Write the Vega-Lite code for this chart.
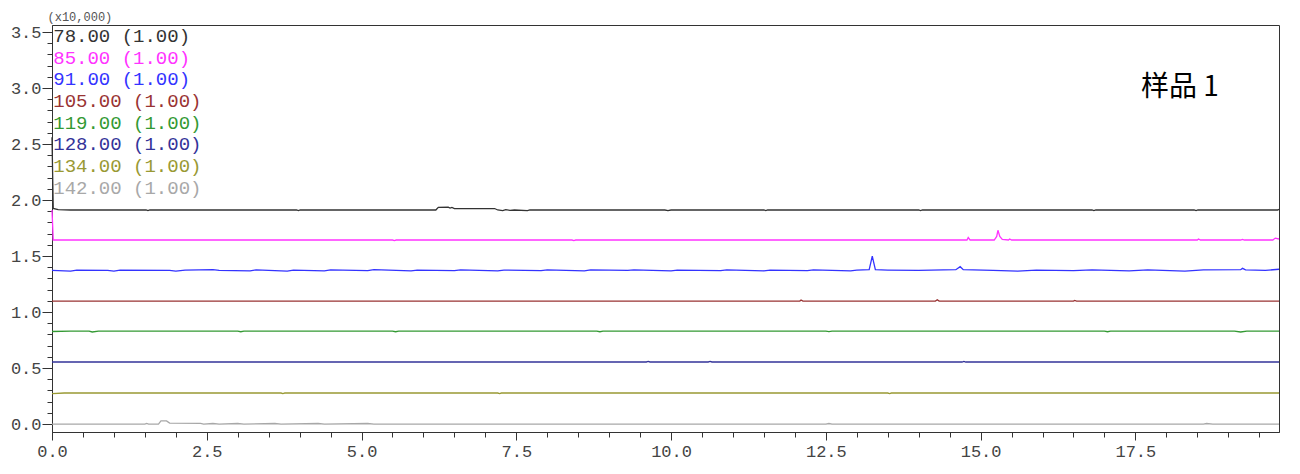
{
"$schema": "https://vega.github.io/schema/vega-lite/v6.json",
"width": 1227, "height": 407,
"autosize": {"type": "none"},
"padding": {"left": 52, "top": 25, "right": 21, "bottom": 42},
"background": "white",
"config": {"view": {"stroke": "#333333", "strokeWidth": 1}},
"resolve": {"axis": {"x": "independent", "y": "independent"}},
"layer": [
{
"data": {"values": [
{"s":"78","t":0,"v":2.56},{"s":"78","t":0.02,"v":1.925},{"s":"78","t":0.1,"v":1.915},{"s":"78","t":0.3,"v":1.911},{"s":"78","t":1.52,"v":1.911},{"s":"78","t":1.55,"v":1.905},{"s":"78","t":1.58,"v":1.911},{"s":"78","t":3.95,"v":1.911},{"s":"78","t":3.98,"v":1.906},{"s":"78","t":4.01,"v":1.911},{"s":"78","t":6.2,"v":1.911},{"s":"78","t":6.24,"v":1.935},{"s":"78","t":6.4,"v":1.937},{"s":"78","t":6.43,"v":1.928},{"s":"78","t":6.46,"v":1.934},{"s":"78","t":6.5,"v":1.924},{"s":"78","t":7.15,"v":1.924},{"s":"78","t":7.2,"v":1.911},{"s":"78","t":7.28,"v":1.906},{"s":"78","t":7.33,"v":1.914},{"s":"78","t":7.4,"v":1.907},{"s":"78","t":7.47,"v":1.911},{"s":"78","t":7.68,"v":1.905},{"s":"78","t":7.72,"v":1.911},{"s":"78","t":9.9,"v":1.911},{"s":"78","t":9.95,"v":1.906},{"s":"78","t":10,"v":1.911},{"s":"78","t":11.5,"v":1.911},{"s":"78","t":11.53,"v":1.906},{"s":"78","t":11.56,"v":1.911},{"s":"78","t":14.0,"v":1.911},{"s":"78","t":14.03,"v":1.906},{"s":"78","t":14.06,"v":1.911},{"s":"78","t":16.8,"v":1.911},{"s":"78","t":16.83,"v":1.906},{"s":"78","t":16.86,"v":1.911},{"s":"78","t":18.45,"v":1.911},{"s":"78","t":18.48,"v":1.906},{"s":"78","t":18.51,"v":1.911},{"s":"78","t":19.8,"v":1.911},{"s":"78","t":19.82,"v":1.918},
{"s":"85","t":0,"v":1.911},{"s":"85","t":0.02,"v":1.643},{"s":"85","t":5.5,"v":1.643},{"s":"85","t":5.53,"v":1.638},{"s":"85","t":5.56,"v":1.643},{"s":"85","t":8.4,"v":1.643},{"s":"85","t":8.43,"v":1.638},{"s":"85","t":8.46,"v":1.643},{"s":"85","t":14.78,"v":1.643},{"s":"85","t":14.8,"v":1.665},{"s":"85","t":14.83,"v":1.643},{"s":"85","t":15.22,"v":1.643},{"s":"85","t":15.26,"v":1.675},{"s":"85","t":15.28,"v":1.73},{"s":"85","t":15.31,"v":1.675},{"s":"85","t":15.35,"v":1.648},{"s":"85","t":15.45,"v":1.643},{"s":"85","t":15.47,"v":1.652},{"s":"85","t":15.5,"v":1.643},{"s":"85","t":18.5,"v":1.643},{"s":"85","t":18.52,"v":1.652},{"s":"85","t":18.55,"v":1.643},{"s":"85","t":19.2,"v":1.643},{"s":"85","t":19.23,"v":1.649},{"s":"85","t":19.26,"v":1.643},{"s":"85","t":19.72,"v":1.643},{"s":"85","t":19.76,"v":1.66},{"s":"85","t":19.82,"v":1.652},
{"s":"91","t":0,"v":1.372},{"s":"91","t":0.3,"v":1.365},{"s":"91","t":0.4,"v":1.374},{"s":"91","t":0.9,"v":1.372},{"s":"91","t":1.0,"v":1.365},{"s":"91","t":1.1,"v":1.375},{"s":"91","t":1.9,"v":1.372},{"s":"91","t":2.0,"v":1.366},{"s":"91","t":2.15,"v":1.375},{"s":"91","t":2.6,"v":1.378},{"s":"91","t":2.7,"v":1.372},{"s":"91","t":3.2,"v":1.368},{"s":"91","t":3.3,"v":1.376},{"s":"91","t":3.8,"v":1.366},{"s":"91","t":3.9,"v":1.374},{"s":"91","t":4.4,"v":1.368},{"s":"91","t":4.5,"v":1.376},{"s":"91","t":5.1,"v":1.37},{"s":"91","t":5.2,"v":1.378},{"s":"91","t":5.8,"v":1.368},{"s":"91","t":5.9,"v":1.375},{"s":"91","t":6.5,"v":1.37},{"s":"91","t":6.6,"v":1.377},{"s":"91","t":7.2,"v":1.368},{"s":"91","t":7.3,"v":1.375},{"s":"91","t":7.9,"v":1.37},{"s":"91","t":8.0,"v":1.377},{"s":"91","t":8.6,"v":1.368},{"s":"91","t":8.7,"v":1.376},{"s":"91","t":9.3,"v":1.372},{"s":"91","t":9.4,"v":1.377},{"s":"91","t":10.0,"v":1.368},{"s":"91","t":10.1,"v":1.375},{"s":"91","t":10.8,"v":1.37},{"s":"91","t":10.9,"v":1.377},{"s":"91","t":11.5,"v":1.368},{"s":"91","t":11.6,"v":1.375},{"s":"91","t":12.2,"v":1.37},{"s":"91","t":12.3,"v":1.376},{"s":"91","t":12.9,"v":1.368},{"s":"91","t":13.0,"v":1.375},{"s":"91","t":13.2,"v":1.378},{"s":"91","t":13.23,"v":1.45},{"s":"91","t":13.25,"v":1.5},{"s":"91","t":13.27,"v":1.45},{"s":"91","t":13.3,"v":1.378},{"s":"91","t":13.5,"v":1.375},{"s":"91","t":14.0,"v":1.372},{"s":"91","t":14.6,"v":1.378},{"s":"91","t":14.67,"v":1.405},{"s":"91","t":14.72,"v":1.378},{"s":"91","t":15.2,"v":1.372},{"s":"91","t":15.6,"v":1.365},{"s":"91","t":15.9,"v":1.374},{"s":"91","t":16.5,"v":1.37},{"s":"91","t":16.8,"v":1.376},{"s":"91","t":17.4,"v":1.368},{"s":"91","t":17.7,"v":1.376},{"s":"91","t":18.3,"v":1.366},{"s":"91","t":18.6,"v":1.376},{"s":"91","t":19.2,"v":1.378},{"s":"91","t":19.23,"v":1.39},{"s":"91","t":19.28,"v":1.376},{"s":"91","t":19.6,"v":1.372},{"s":"91","t":19.82,"v":1.382},
{"s":"105","t":0,"v":1.098},{"s":"105","t":12.08,"v":1.098},{"s":"105","t":12.1,"v":1.108},{"s":"105","t":12.13,"v":1.098},{"s":"105","t":14.27,"v":1.098},{"s":"105","t":14.3,"v":1.11},{"s":"105","t":14.33,"v":1.098},{"s":"105","t":16.5,"v":1.098},{"s":"105","t":16.52,"v":1.104},{"s":"105","t":16.55,"v":1.098},{"s":"105","t":19.82,"v":1.098},
{"s":"119","t":0,"v":0.826},{"s":"119","t":0.3,"v":0.83},{"s":"119","t":0.6,"v":0.83},{"s":"119","t":0.65,"v":0.822},{"s":"119","t":0.75,"v":0.83},{"s":"119","t":3.0,"v":0.83},{"s":"119","t":3.05,"v":0.824},{"s":"119","t":3.1,"v":0.83},{"s":"119","t":5.5,"v":0.83},{"s":"119","t":5.55,"v":0.824},{"s":"119","t":5.6,"v":0.83},{"s":"119","t":8.8,"v":0.83},{"s":"119","t":8.85,"v":0.824},{"s":"119","t":8.9,"v":0.83},{"s":"119","t":12.5,"v":0.83},{"s":"119","t":12.55,"v":0.825},{"s":"119","t":12.6,"v":0.83},{"s":"119","t":17.0,"v":0.83},{"s":"119","t":17.05,"v":0.824},{"s":"119","t":17.1,"v":0.83},{"s":"119","t":19.1,"v":0.83},{"s":"119","t":19.2,"v":0.822},{"s":"119","t":19.3,"v":0.83},{"s":"119","t":19.82,"v":0.83},
{"s":"128","t":0,"v":0.554},{"s":"128","t":9.6,"v":0.554},{"s":"128","t":9.63,"v":0.559},{"s":"128","t":9.66,"v":0.554},{"s":"128","t":10.6,"v":0.554},{"s":"128","t":10.63,"v":0.559},{"s":"128","t":10.66,"v":0.554},{"s":"128","t":14.7,"v":0.554},{"s":"128","t":14.73,"v":0.56},{"s":"128","t":14.76,"v":0.554},{"s":"128","t":19.82,"v":0.554},
{"s":"134","t":0,"v":0.272},{"s":"134","t":0.2,"v":0.277},{"s":"134","t":3.7,"v":0.277},{"s":"134","t":3.73,"v":0.272},{"s":"134","t":3.76,"v":0.277},{"s":"134","t":7.2,"v":0.277},{"s":"134","t":7.23,"v":0.272},{"s":"134","t":7.26,"v":0.277},{"s":"134","t":13.5,"v":0.277},{"s":"134","t":13.53,"v":0.272},{"s":"134","t":13.56,"v":0.277},{"s":"134","t":19.82,"v":0.277},
{"s":"142","t":0,"v":0},{"s":"142","t":1.5,"v":0},{"s":"142","t":1.53,"v":0.006},{"s":"142","t":1.56,"v":0},{"s":"142","t":1.72,"v":0},{"s":"142","t":1.76,"v":0.028},{"s":"142","t":1.85,"v":0.028},{"s":"142","t":1.9,"v":0.008},{"s":"142","t":2.4,"v":0.006},{"s":"142","t":2.45,"v":0},{"s":"142","t":2.6,"v":0.005},{"s":"142","t":2.7,"v":0},{"s":"142","t":3.0,"v":0.005},{"s":"142","t":3.1,"v":0},{"s":"142","t":3.6,"v":0.005},{"s":"142","t":3.7,"v":0},{"s":"142","t":4.3,"v":0.005},{"s":"142","t":4.4,"v":0},{"s":"142","t":5.1,"v":0.005},{"s":"142","t":5.2,"v":0},{"s":"142","t":12.5,"v":0},{"s":"142","t":12.55,"v":0.005},{"s":"142","t":12.6,"v":0},{"s":"142","t":18.6,"v":0},{"s":"142","t":18.65,"v":0.005},{"s":"142","t":18.75,"v":0},{"s":"142","t":19.82,"v":0}
]},
"mark": {"type": "line", "strokeWidth": 1.3, "interpolate": "linear"},
"encoding": {
"x": {"field": "t", "type": "quantitative", "scale": {"domain": [0, 19.82], "nice": false, "zero": false},
"axis": {"orient": "bottom", "values": [0, 2.5, 5, 7.5, 10, 12.5, 15, 17.5], "format": ".1f", "tickSize": 8, "labelPadding": 3, "labelFont": "Liberation Mono", "labelFontSize": 17, "labelColor": "#444444", "domainColor": "#333333", "tickColor": "#333333", "grid": false, "title": null, "labelFlush": false}},
"y": {"field": "v", "type": "quantitative", "scale": {"domain": [-0.071, 3.5625], "nice": false, "zero": false},
"axis": {"orient": "left", "values": [0, 0.5, 1, 1.5, 2, 2.5, 3, 3.5], "format": ".1f", "tickSize": 10, "labelPadding": 1, "labelFont": "Liberation Mono", "labelFontSize": 17, "labelColor": "#444444", "domainColor": "#333333", "tickColor": "#333333", "grid": false, "labelFlush": false,
"title": "(x10,000)", "titleAngle": 0, "titleX": -5, "titleY": -9, "titleAlign": "left", "titleBaseline": "middle", "titleFont": "Liberation Mono", "titleFontSize": 12, "titleFontWeight": "normal", "titleColor": "#555555"}},
"color": {"field": "s", "type": "nominal", "legend": null,
"scale": {"domain": ["78","85","91","105","119","128","134","142"], "range": ["#333333","#ff33ff","#3333ff","#993333","#339933","#333399","#999933","#a8a8a8"]}}
}
},
{
"data": {"values": [
{"s":"78","label":"78.00 (1.00)","lx":0.02,"ly":3.464},
{"s":"85","label":"85.00 (1.00)","lx":0.02,"ly":3.27},
{"s":"91","label":"91.00 (1.00)","lx":0.02,"ly":3.078},
{"s":"105","label":"105.00 (1.00)","lx":0.02,"ly":2.884},
{"s":"119","label":"119.00 (1.00)","lx":0.02,"ly":2.69},
{"s":"128","label":"128.00 (1.00)","lx":0.02,"ly":2.497},
{"s":"134","label":"134.00 (1.00)","lx":0.02,"ly":2.304},
{"s":"142","label":"142.00 (1.00)","lx":0.02,"ly":2.11}
]},
"mark": {"type": "text", "align": "left", "baseline": "middle", "font": "Liberation Mono", "fontSize": 19},
"encoding": {
"x": {"field": "lx", "type": "quantitative", "scale": {"domain": [0, 19.82], "nice": false, "zero": false},
"axis": {"orient": "bottom", "values": [0.5,1,1.5,2,3,3.5,4,4.5,5.5,6,6.5,7,8,8.5,9,9.5,10.5,11,11.5,12,13,13.5,14,14.5,15.5,16,16.5,17,18,18.5,19,19.5], "labels": false, "domain": false, "tickSize": 5, "tickColor": "#333333", "grid": false, "title": null}},
"y": {"field": "ly", "type": "quantitative", "scale": {"domain": [-0.071, 3.5625], "nice": false, "zero": false},
"axis": {"orient": "left", "values": [0.1,0.2,0.3,0.4,0.6,0.7,0.8,0.9,1.1,1.2,1.3,1.4,1.6,1.7,1.8,1.9,2.1,2.2,2.3,2.4,2.6,2.7,2.8,2.9,3.1,3.2,3.3,3.4], "labels": false, "domain": false, "tickSize": 5, "tickColor": "#333333", "grid": false, "title": null}},
"text": {"field": "label"},
"color": {"field": "s", "type": "nominal", "legend": null,
"scale": {"domain": ["78","85","91","105","119","128","134","142"], "range": ["#333333","#ff33ff","#3333ff","#993333","#339933","#333399","#999933","#a8a8a8"]}}
}
},
{
"data": {"values": [{"lab": "样品 1", "px": 18.22, "py": 3.0}]},
"mark": {"type": "text", "align": "center", "baseline": "middle", "font": "Noto Sans CJK SC", "fontSize": 28, "color": "#000000"},
"encoding": {
"x": {"field": "px", "type": "quantitative", "scale": {"domain": [0, 19.82], "nice": false, "zero": false}, "axis": null},
"y": {"field": "py", "type": "quantitative", "scale": {"domain": [-0.071, 3.5625], "nice": false, "zero": false}, "axis": null},
"text": {"field": "lab"}
}
}
]
}
